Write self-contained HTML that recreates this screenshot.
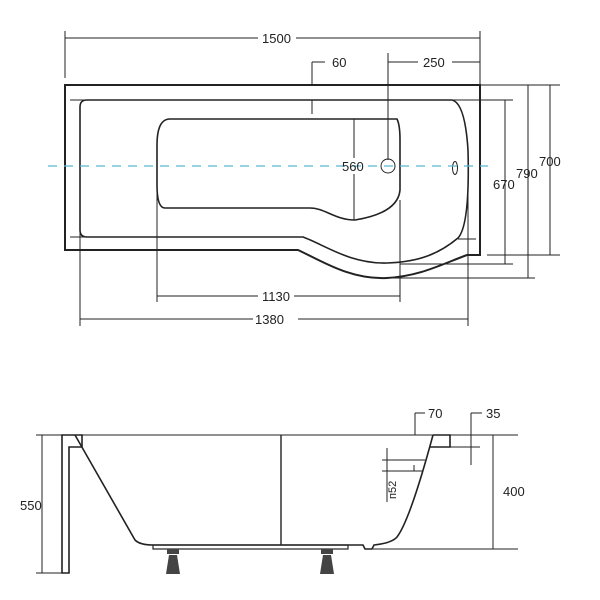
<!DOCTYPE html>
<html><head><meta charset="utf-8"><style>
html,body{margin:0;padding:0;background:#fff;}
svg{display:block}
text{font-family:"Liberation Sans",sans-serif;font-size:13px;fill:#222}
</style></head><body>
<svg width="600" height="600" viewBox="0 0 600 600" xmlns="http://www.w3.org/2000/svg">
<g fill="none" stroke="#222" stroke-width="1">
<line x1="65" y1="38" x2="258" y2="38"/><line x1="296" y1="38" x2="480" y2="38"/>
<line x1="65" y1="31" x2="65" y2="78"/><line x1="480" y1="31" x2="480" y2="85"/>
<line x1="388" y1="53" x2="388" y2="160"/><line x1="388" y1="62" x2="418" y2="62"/><line x1="452" y1="62" x2="480" y2="62"/>
<line x1="312" y1="62" x2="312" y2="85"/><line x1="312" y1="100" x2="312" y2="114"/><line x1="312" y1="62" x2="325" y2="62"/>
<path d="M65,85 H480 V255 H467 C440,265 420,276 387,278 C350,280 320,260 298,250 H65 Z" stroke-width="2"/>
<path d="M87,100 H452 Q465,103 468,150 Q470,225 458,238 C440,253 420,262 387,263 C350,264 325,245 303,237 H87 Q80,237 80,230 V107 Q80,100 87,100 Z" stroke-width="1.6"/>
<line x1="70" y1="100" x2="87" y2="100"/><line x1="452" y1="100" x2="513" y2="100"/>
<line x1="70" y1="237" x2="87" y2="237"/><line x1="458" y1="239" x2="476" y2="239"/>
<path d="M170,119 H397 Q400,125 400,140 V190 Q398,213 355,220 C335,220 325,208 310,208 H165 Q157,208 157,185 V145 Q157,119 170,119 Z" stroke-width="1.6"/>
<line x1="354" y1="119" x2="354" y2="158"/><line x1="354" y1="174" x2="354" y2="220"/>
<circle cx="388" cy="166" r="7"/>
<ellipse cx="455" cy="168" rx="2.5" ry="6.5"/>
<line x1="157" y1="166" x2="157" y2="302"/><line x1="400" y1="200" x2="400" y2="302"/>
<line x1="157" y1="296" x2="258" y2="296"/><line x1="294" y1="296" x2="400" y2="296"/>
<line x1="80" y1="230" x2="80" y2="326"/><line x1="468" y1="180" x2="468" y2="326"/>
<line x1="80" y1="319" x2="253" y2="319"/><line x1="298" y1="319" x2="468" y2="319"/>
<line x1="505" y1="100" x2="505" y2="264"/><line x1="400" y1="264" x2="513" y2="264"/>
<line x1="528" y1="85" x2="528" y2="278"/><line x1="387" y1="278" x2="535" y2="278"/>
<line x1="550" y1="85" x2="550" y2="255"/><line x1="480" y1="85" x2="560" y2="85"/><line x1="487" y1="255" x2="560" y2="255"/>
</g>
<line x1="48" y1="166" x2="488" y2="166" stroke="#5bb8d0" stroke-width="1.2" stroke-dasharray="9,7"/>
<text x="262" y="43">1500</text>
<text x="332" y="67">60</text>
<text x="423" y="67">250</text>
<text x="342" y="171">560</text>
<text x="262" y="301">1130</text>
<text x="255" y="324">1380</text>
<text x="493" y="189">670</text>
<text x="516" y="178">790</text>
<text x="539" y="166">700</text>

<g fill="none" stroke="#222" stroke-width="1">
<line x1="62" y1="435" x2="518" y2="435"/>
<path d="M62,435 H82 V447 H69 V573 H62 Z" stroke-width="1.6"/>
<path d="M75,435 L135,540 Q140,545 153,545 H363 L365,549 H372 L374,545 Q392,543 397,537 Q410,520 433,435" stroke-width="1.6"/>
<path d="M433,435 H450 V447 H430" stroke-width="1.6"/>
<line x1="281" y1="435" x2="281" y2="545" stroke-width="1.4"/>
<rect x="153" y="545" width="195" height="4" stroke-width="1.2"/>
<line x1="450" y1="447" x2="480" y2="447"/>
<line x1="42" y1="435" x2="42" y2="573"/><line x1="36" y1="435" x2="62" y2="435"/><line x1="36" y1="573" x2="62" y2="573"/>
<line x1="493" y1="435" x2="493" y2="549"/><line x1="373" y1="549" x2="518" y2="549"/>
<line x1="415" y1="413" x2="415" y2="435"/><line x1="415" y1="413" x2="425" y2="413"/>
<line x1="471" y1="413" x2="471" y2="465"/><line x1="471" y1="413" x2="482" y2="413"/>
<line x1="387" y1="448" x2="387" y2="502"/><line x1="382" y1="460" x2="425" y2="460"/><line x1="382" y1="471" x2="422" y2="471"/>
<line x1="414" y1="465" x2="414" y2="471"/>
</g>
<g fill="#444">
<rect x="167" y="549" width="12" height="5"/><path d="M169,555 H177 L180,574 H166 Z"/>
<rect x="321" y="549" width="12" height="5"/><path d="M323,555 H331 L334,574 H320 Z"/>
</g>
<text x="428" y="418">70</text>
<text x="486" y="418">35</text>
<text x="20" y="510">550</text>
<text x="503" y="496">400</text>
<text x="0" y="0" transform="translate(396,499) rotate(-90)" style="font-size:11px">п52</text>
</svg>
</body></html>
